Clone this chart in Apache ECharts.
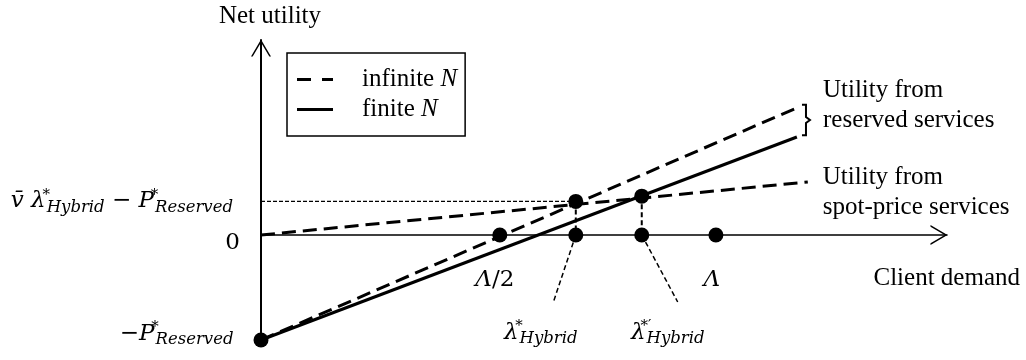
<!DOCTYPE html>
<html>
<head>
<meta charset="utf-8">
<title>Net utility vs client demand</title>
<script src="https://cdn.jsdelivr.net/npm/echarts@6/dist/echarts.min.js"></script>
<style>
    html, body { margin: 0; padding: 0; background: #fff; }
    #chart { width: 1026px; height: 360px; }
</style>
</head>
<body>
<div id="chart"></div>
<script>
    // units: x -> Λ = 10, y -> P*Reserved = 1
    const xMax = 15.08
    const yMin = -1
    const yMax = 1.857

    // the three utility lines (start on the y axis)
    const spotLine = [[0, 0], [12.02, 0.505]]
    const reservedInfinite = [[0, -1], [11.85, 1.224]]
    const reservedFinite = [[0, -1], [11.78, 0.933]]

    // dots on the demand axis: Λ/2, λ*, λ*', Λ
    const axisPointX = [5.25, 6.92, 8.37, 10]
    const axisPointLabels = [
        '{m|Λ}{r|/2}',
        '{m|λ}{sup|*}{sub|Hybrid}',
        '{m|λ}{sup|*′}{sub|Hybrid}',
        '{m|Λ}'
    ]
    // dots where the lines cross, above λ* and λ*'
    const upperPointX = [6.92, 8.37]
    const upperPointY = [0.32, 0.37]
    // lower ends of the dashed leaders under λ*, λ*'
    const leaderEnds = [[6.42, -0.648], [9.16, -0.638]]

    // y axis labels
    const yTickValues = [0.32, 0, -1]
    const yTickLabels = [
        '{m|v\u0304 λ}{sup|*}{sub|Hybrid}{r| − }{m|P}{sup|*}{sub|Reserved}',
        '{r|0}',
        '{r|−}{m|P}{sup|*}{sub|Reserved}'
    ]

    // brace between the two reserved lines: x, top, bottom
    const bracket = [11.98, 1.24, 0.95]
    const reservedText = 'Utility from\nreserved services'
    const spotText = 'Utility from\nspot-price services'

    const serif = '"Liberation Serif", "Times New Roman", serif'
    const math = '"DejaVu Serif", serif'

    const mathRich = {
        m: { fontFamily: math, fontStyle: 'italic', fontSize: 23, color: '#000' },
        r: { fontFamily: math, fontSize: 23, color: '#000' },
        sup: { fontFamily: math, fontSize: 15, color: '#000', padding: [0, 0, 13, 0], width: 1, align: 'left' },
        sub: { fontFamily: math, fontStyle: 'italic', fontSize: 16.5, color: '#000', padding: [12, 0, 0, 0] }
    }

    // label placement for the axis dots and y ticks
    const axisPointLabelStyle = [
        { distance: 26, offset: [-5, 0] },
        { distance: 76, offset: [-35, 0] },
        { distance: 76, offset: [26, 0] },
        { distance: 26, offset: [-4, 0] }
    ]
    const yTickLabelStyle = [
        { distance: 28, offset: [0, 0] },
        { distance: 21, offset: [0, 8] },
        { distance: 20, offset: [0, -6] }
    ]

    const arrow = 'path://M0,17 L10,0 L20,17 L18.3,17 L10,2.9 L1.7,17 Z'
    const dashIcon = 'path://M0,0 L14,0 L14,3 L0,3 Z M25,0 L36,0 L36,3 L25,3 Z'
    const solidIcon = 'path://M0,0 L36,0 L36,3 L0,3 Z'
    const dashed = { color: '#000', width: 3, type: [14, 7] }

    function guide(name, data, width, dash) {
        return {
            name: name, type: 'line', data: data, symbol: 'none', silent: true, z: 3,
            lineStyle: { color: '#000', width: width, type: dash }
        }
    }

    let myChart = echarts.init(document.getElementById('chart'))

    let option = {
        animation: false,
        color: ['#000'],
        grid: { left: 261, right: 79, top: 40, bottom: 20 },
        legend: {
            left: 287,
            top: 53,
            orient: 'vertical',
            data: [
                { name: 'infinite N', icon: dashIcon },
                { name: 'finite N', icon: solidIcon }
            ],
            selectedMode: false,
            itemWidth: 36,
            itemHeight: 3,
            itemGap: 5,
            padding: [14, 8, 14, 10],
            borderColor: '#000',
            borderWidth: 1.5,
            itemStyle: { color: '#000', borderWidth: 0 },
            formatter: function (name) {
                return '{t|' + name.slice(0, -1) + '}{n|N}'
            },
            textStyle: {
                padding: [0, 0, 0, 24],
                rich: {
                    t: { fontFamily: serif, fontSize: 25, lineHeight: 26, color: '#000' },
                    n: { fontFamily: serif, fontStyle: 'italic', fontSize: 25, lineHeight: 26, color: '#000' }
                }
            }
        },
        graphic: [
            {
                type: 'text',
                right: 6,
                top: 266,
                style: { text: 'Client demand', fontFamily: serif, fontSize: 25, fill: '#000' }
            }
        ],
        xAxis: {
            type: 'value',
            min: 0,
            max: xMax,
            axisLine: {
                onZero: true,
                symbol: ['none', arrow],
                symbolSize: [20, 17],
                symbolOffset: [0, -8],
                lineStyle: { color: '#000', width: 1.5 }
            },
            axisTick: { show: false },
            axisLabel: { show: false },
            splitLine: { show: false }
        },
        yAxis: {
            type: 'value',
            min: yMin,
            max: yMax,
            name: 'Net utility',
            nameLocation: 'end',
            nameGap: 11,
            nameTextStyle: {
                fontFamily: serif, fontSize: 25, color: '#000', padding: [0, 0, 0, 18]
            },
            axisLine: {
                symbol: ['none', arrow],
                symbolSize: [20, 17],
                symbolOffset: [0, -8],
                lineStyle: { color: '#000', width: 2 }
            },
            axisTick: { show: false },
            axisLabel: { show: false },
            splitLine: { show: false }
        },
        series: [
            {
                name: 'spot-price',
                type: 'line',
                data: spotLine,
                symbol: 'none',
                silent: true,
                z: 4,
                lineStyle: dashed,
                endLabel: {
                    show: true,
                    formatter: spotText,
                    distance: 15,
                    offset: [0, 10],
                    fontFamily: serif,
                    fontSize: 25,
                    lineHeight: 30,
                    color: '#000'
                }
            },
            {
                name: 'infinite N',
                type: 'line',
                data: reservedInfinite,
                symbol: 'none',
                silent: true,
                z: 4,
                itemStyle: { color: '#000' },
                lineStyle: dashed
            },
            {
                name: 'finite N',
                type: 'line',
                data: reservedFinite,
                symbol: 'none',
                silent: true,
                z: 4,
                itemStyle: { color: '#000' },
                lineStyle: { color: '#000', width: 3, type: 'solid' }
            },
            guide('guide-h', [[0, upperPointY[0]], [upperPointX[0], upperPointY[0]]], 1.2, [4, 2]),
            guide('drop-0', [[upperPointX[0], upperPointY[0]], [upperPointX[0], 0]], 2, [5, 3]),
            guide('drop-1', [[upperPointX[1], upperPointY[1]], [upperPointX[1], 0]], 2, [5, 3]),
            guide('leader-0', [[axisPointX[1], 0], leaderEnds[0]], 1.5, [5, 3]),
            guide('leader-1', [[axisPointX[2], 0], leaderEnds[1]], 1.5, [5, 3]),
            {
                name: 'axis-points',
                type: 'scatter',
                silent: true,
                z: 10,
                symbolSize: 15,
                itemStyle: { color: '#000', opacity: 1 },
                label: { show: true, position: 'bottom', rich: mathRich },
                data: axisPointX.map(function (x, i) {
                    return {
                        value: [x, 0],
                        label: {
                            formatter: axisPointLabels[i],
                            distance: axisPointLabelStyle[i].distance,
                            offset: axisPointLabelStyle[i].offset
                        }
                    }
                })
            },
            {
                name: 'upper-points',
                type: 'scatter',
                silent: true,
                z: 10,
                symbolSize: 15,
                itemStyle: { color: '#000', opacity: 1 },
                data: upperPointX.map(function (x, i) { return [x, upperPointY[i]] })
            },
            {
                name: 'y-ticks',
                type: 'scatter',
                silent: true,
                z: 10,
                itemStyle: { color: '#000', opacity: 1 },
                label: { show: true, position: 'left', rich: mathRich },
                data: yTickValues.map(function (v, i) {
                    return {
                        value: [0, v],
                        symbolSize: v === yMin ? 15 : 0,
                        label: {
                            formatter: yTickLabels[i],
                            distance: yTickLabelStyle[i].distance,
                            offset: yTickLabelStyle[i].offset
                        }
                    }
                })
            },
            {
                name: 'bracket',
                type: 'custom',
                silent: true,
                z: 5,
                data: [bracket],
                renderItem: function (params, api) {
                    let top = api.coord([api.value(0), api.value(1)])
                    let bot = api.coord([api.value(0), api.value(2)])
                    let x = top[0]
                    let mid = (top[1] + bot[1]) / 2
                    return {
                        type: 'group',
                        children: [
                            {
                                type: 'polyline',
                                shape: {
                                    points: [[x - 4, top[1]], [x, top[1]], [x, mid - 3], [x + 4, mid],
                                        [x, mid + 3], [x, bot[1]], [x - 4, bot[1]]]
                                },
                                style: { fill: null, stroke: '#000', lineWidth: 2 }
                            },
                            {
                                type: 'text',
                                x: x + 17,
                                y: mid + 15,
                                style: {
                                    text: reservedText,
                                    fontFamily: serif,
                                    fontSize: 25,
                                    lineHeight: 30,
                                    fill: '#000',
                                    verticalAlign: 'bottom'
                                }
                            }
                        ]
                    }
                }
            }
        ]
    }

    myChart.setOption(option)
</script>
</body>
</html>
